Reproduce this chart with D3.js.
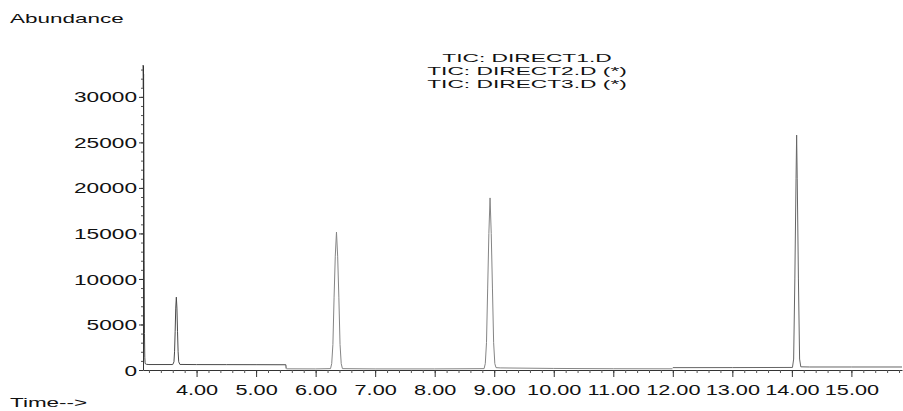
<!DOCTYPE html>
<html>
<head>
<meta charset="utf-8">
<script src="https://cdn.jsdelivr.net/npm/d3@7"></script>
<style>
  body { margin: 0; background: #fff; }
  svg { display: block; }
</style>
</head>
<body>
<svg id="chart" width="903" height="411"></svg>
<script>
// ---- TIC traces: retention time (min) and abundance ----
const direct1Time  = [3.100, 3.105, 3.110, 3.115, 3.120, 3.125, 3.130, 3.135, 3.140, 3.160, 3.200, 3.600, 3.620, 3.630, 3.640, 3.650, 3.660, 3.670, 3.680, 3.690, 3.700, 3.720, 4.000, 4.500, 5.000, 5.500, 5.505];
const direct1Abund = [33500, 31000, 32500, 24000, 12000, 4000, 1400, 800, 680, 620, 600, 600, 900, 2000, 4200, 6800, 8000, 6800, 4200, 2000, 900, 610, 595, 590, 585, 575, 150];

const direct2Time  = [5.510, 6.000, 6.250, 6.270, 6.290, 6.310, 6.330, 6.350, 6.370, 6.390, 6.410, 6.430, 6.450, 7.000, 8.000, 8.830, 8.850, 8.870, 8.890, 8.910, 8.930, 8.950, 8.970, 8.990, 9.010, 9.030, 9.100, 10.000, 11.000, 11.995];
const direct2Abund = [130, 120, 150, 700, 2800, 8000, 12500, 15150, 12500, 8000, 2800, 700, 150, 120, 120, 150, 700, 3000, 9000, 15000, 18900, 15000, 9000, 3000, 700, 260, 230, 170, 140, 130];

const direct3Time  = [12.000, 13.000, 14.010, 14.030, 14.050, 14.070, 14.080, 14.090, 14.110, 14.130, 14.150, 14.300, 15.000, 15.850];
const direct3Abund = [260, 265, 280, 1200, 10000, 21000, 25800, 21000, 10000, 1200, 350, 330, 330, 330];

const traceTitles = ["TIC: DIRECT1.D", "TIC: DIRECT2.D (*)", "TIC: DIRECT3.D (*)"];
const traceColors = ["#4a4a4a", "#858585", "#666666"];

const xTickValues = [4, 5, 6, 7, 8, 9, 10, 11, 12, 13, 14, 15];
const xTickLabels = ["4.00", "5.00", "6.00", "7.00", "8.00", "9.00", "10.00", "11.00", "12.00", "13.00", "14.00", "15.00"];
const yTickValues = [0, 5000, 10000, 15000, 20000, 25000, 30000];
const yTickLabels = ["0", "5000", "10000", "15000", "20000", "25000", "30000"];

// ---- layout ----
const FONT = "'Liberation Sans', Arial, Helvetica, sans-serif";
const svg = d3.select("#chart");

const x = d3.scaleLinear().domain([3.10, 15.85]).range([143, 902]);
const y = d3.scaleLinear().domain([0, 33500]).range([370, 65]);

// wide, instrument-style lettering: glyphs are stretched horizontally
function stretchedText(g, str, px, py, size, k, anchor) {
  return g.append("text")
    .attr("transform", `translate(${px},${py}) scale(${k},1)`)
    .attr("text-anchor", anchor)
    .attr("font-family", FONT)
    .attr("font-size", size)
    .attr("fill", "#111")
    .text(str);
}

// ---- traces ----
const traces = [
  { t: direct1Time, a: direct1Abund },
  { t: direct2Time, a: direct2Abund },
  { t: direct3Time, a: direct3Abund }
];
const line = d3.line().x(d => x(d[0])).y(d => y(d[1]));
traces.forEach((tr, i) => {
  const pts = tr.t.map((tv, j) => [tv, tr.a[j]]);
  svg.append("path")
    .datum(pts)
    .attr("fill", "none")
    .attr("stroke", traceColors[i])
    .attr("stroke-width", 1)
    .attr("stroke-linejoin", "round")
    .attr("d", line);
});

// ---- y axis ----
const yMinor = d3.range(0, 34).map(i => i * 1000);
svg.append("g")
  .attr("transform", `translate(${x.range()[0]},0)`)
  .call(d3.axisLeft(y).tickValues(yMinor).tickSize(2).tickSizeOuter(0).tickFormat(""))
  .call(g => g.selectAll("line").attr("stroke", "#555"))
  .call(g => g.select(".domain").attr("stroke", "#333"));

const yAx = svg.append("g")
  .attr("transform", `translate(${x.range()[0]},0)`)
  .call(d3.axisLeft(y).tickValues(yTickValues).tickSize(4).tickSizeOuter(0)
        .tickFormat((d, i) => yTickLabels[i]));
yAx.select(".domain").remove();
yAx.selectAll("line").attr("stroke", "#333");
const kY = 1.62;
yAx.selectAll("text")
  .attr("font-family", FONT)
  .attr("font-size", 14)
  .attr("fill", "#111")
  .attr("x", -6 / kY)
  .attr("dy", "0.36em")
  .attr("transform", `scale(${kY},1)`);

// ---- x axis ----
const xMinor = d3.range(16, 80).map(i => i / 5);
svg.append("g")
  .attr("transform", `translate(0,${y(0)})`)
  .call(d3.axisBottom(x).tickValues(xMinor).tickSize(3).tickSizeOuter(0).tickFormat(""))
  .call(g => g.selectAll("line").attr("stroke", "#555"))
  .call(g => g.select(".domain").attr("stroke", "#333"));

const xAx = svg.append("g")
  .attr("transform", `translate(0,${y(0)})`)
  .call(d3.axisBottom(x).tickValues(xTickValues).tickSize(7).tickSizeOuter(0)
        .tickFormat((d, i) => xTickLabels[i]));
xAx.select(".domain").remove();
xAx.selectAll("line").attr("stroke", "#333");
const kX = 1.55;
xAx.selectAll("text")
  .attr("font-family", FONT)
  .attr("font-size", 14)
  .attr("fill", "#111")
  .attr("y", 15)
  .attr("dy", "0.71em")
  .attr("transform", `scale(${kX},1)`);

// ---- captions ----
stretchedText(svg, "Abundance", 10, 23, 13, 1.73, "start");
stretchedText(svg, "Time-->", 10, 407, 13, 1.73, "start");
const titleBaselines = [61.5, 74.8, 88];
traceTitles.forEach((s, i) => stretchedText(svg, s, 527, titleBaselines[i], 11.5, 1.98, "middle"));
</script>
</body>
</html>
